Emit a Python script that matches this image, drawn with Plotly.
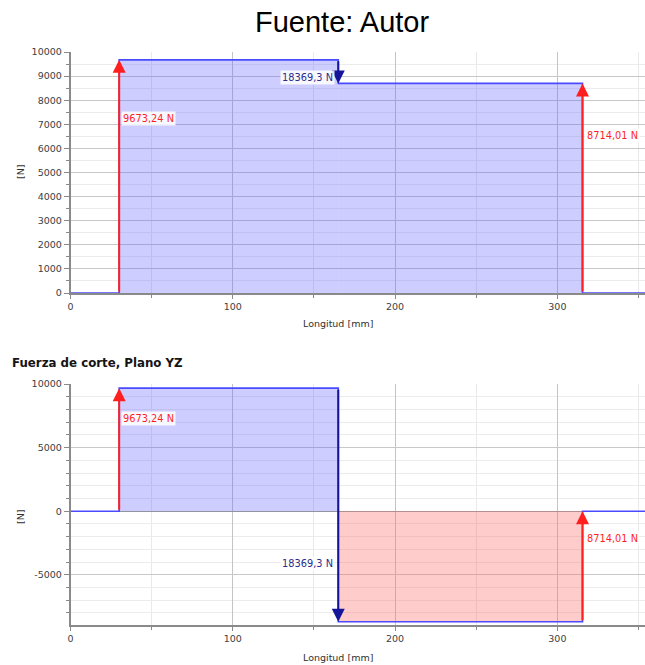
import plotly.graph_objects as go

# ---------------- data ----------------
support_x = [30, 165, 315.5]            # mm, load positions
force_labels = ["9673,24 N", "18369,3 N", "8714,01 N"]
force_dirs = ["up", "down", "up"]
shear_top = [9673.24, 8696.06]          # upper diagram values between supports
shear_yz = [9673.24, -8696.06]          # "Fuerza de corte, Plano YZ"
x_max = 354
x_ticks = [0, 100, 200, 300]
x_tick_text = ["0", "100", "200", "300"]
top_y_ticks = [0, 1000, 2000, 3000, 4000, 5000, 6000, 7000, 8000, 9000, 10000]
top_y_text = ["0", "1000", "2000", "3000", "4000", "5000", "6000", "7000", "8000", "9000", "10000"]
bot_y_ticks = [-5000, 0, 5000, 10000]
bot_y_text = ["-5000", "0", "5000", "10000"]
top_y_range = [0, 10000]
bot_y_range = [-8950, 10000]

W, H = 645, 665
def px(x):  # pixel -> paper x
    return x / W
def py(y):  # pixel -> paper y
    return 1 - y / H

RED = "#ff1f1f"
BLUE_ARROW = "#15159a"
BLUE_LINE = "#4a4aff"
BLUE_FILL = "rgba(90,90,255,0.30)"
RED_FILL = "rgba(255,110,110,0.35)"
FONT = "DejaVu Sans"

fig = go.Figure()

def add_diagram(values, xa, ya):
    for i, v in enumerate(values):
        x0, x1 = support_x[i], support_x[i + 1]
        fig.add_trace(go.Scatter(
            x=[x0, x0, x1, x1], y=[0, v, v, 0], fill="toself",
            fillcolor=BLUE_FILL if v >= 0 else RED_FILL,
            line=dict(width=0), mode="lines", hoverinfo="skip",
            showlegend=False, xaxis=xa, yaxis=ya))
    xs = [0, support_x[0]]
    ys = [0, 0]
    for i, v in enumerate(values):
        xs += [support_x[i], support_x[i + 1]]
        ys += [v, v]
    xs += [support_x[-1], x_max]
    ys += [0, 0]
    fig.add_trace(go.Scatter(x=xs, y=ys, mode="lines",
                             line=dict(color=BLUE_LINE, width=1.6),
                             showlegend=False, hoverinfo="skip",
                             xaxis=xa, yaxis=ya))
    levels = [0] + list(values) + [0]
    for i, xp in enumerate(support_x):
        lo, hi = sorted([levels[i], levels[i + 1]])
        up = force_dirs[i] == "up"
        tail, head = (lo, hi) if up else (hi, lo)
        col = RED if up else BLUE_ARROW
        fig.add_annotation(x=xp, y=head, ax=xp, ay=tail,
                           xref=xa, yref=ya, axref=xa, ayref=ya,
                           text="", showarrow=True, arrowhead=2,
                           arrowsize=1.3, arrowwidth=2, arrowcolor=col,
                           standoff=0)
        ly = tail + 0.75 * (head - tail)
        if up:
            fig.add_annotation(x=xp, y=ly, xref=xa, yref=ya, text=force_labels[i],
                               showarrow=False, xanchor="left", yanchor="middle", xshift=2,
                               font=dict(family=FONT, size=9.8, color=RED),
                               bgcolor="rgba(255,255,255,0.85)", borderpad=1)
        else:
            fig.add_annotation(x=xp, y=ly, xref=xa, yref=ya, text=force_labels[i],
                               showarrow=False, xanchor="right", yanchor="middle", xshift=-3,
                               font=dict(family=FONT, size=9.8, color="#2b2b8c"),
                               bgcolor="rgba(255,255,255,0.85)", borderpad=1)

add_diagram(shear_top, "x", "y")
add_diagram(shear_yz, "x2", "y2")

tickfont = dict(family=FONT, size=9.5, color="#404040")
xdom = [px(70.5), 1]
common_x = dict(range=[0, x_max], tickvals=x_ticks, ticktext=x_tick_text,
                showgrid=True, automargin=False,
                gridcolor="#c4c4c4", gridwidth=1, zeroline=False,
                showline=True, linecolor="#8a8a8a", linewidth=1.5,
                ticks="outside", ticklen=4, tickcolor="#8a8a8a",
                tickfont=tickfont,
                minor=dict(dtick=50, tick0=0, showgrid=True, gridcolor="#e9e9e9",
                           ticks="outside", ticklen=3, tickcolor="#8a8a8a"))
fig.update_layout(
    width=W, height=H, margin=dict(l=0, r=0, t=0, b=0, autoexpand=False),
    paper_bgcolor="white", plot_bgcolor="white",
    xaxis=dict(domain=xdom, anchor="y", **common_x),
    xaxis2=dict(domain=xdom, anchor="y2", **common_x),
    yaxis=dict(domain=[py(293), py(52)], anchor="x", range=top_y_range,
               tickvals=top_y_ticks, ticktext=top_y_text, automargin=False,
               showgrid=True, gridcolor="#c8c8c8",
               zeroline=False, showline=True, linecolor="#8a8a8a", linewidth=1.5,
               ticks="outside", ticklen=5, tickcolor="#8a8a8a", tickfont=tickfont,
               minor=dict(dtick=500, tick0=0, showgrid=True, gridcolor="#ececec",
                          ticks="outside", ticklen=3, tickcolor="#8a8a8a")),
    yaxis2=dict(domain=[py(625), py(384)], anchor="x2", range=bot_y_range,
                tickvals=bot_y_ticks, ticktext=bot_y_text, automargin=False,
                showgrid=True, gridcolor="#c8c8c8",
                zeroline=True, zerolinecolor="#9a9a9a", zerolinewidth=1,
                showline=True, linecolor="#8a8a8a", linewidth=1.5,
                ticks="outside", ticklen=5, tickcolor="#8a8a8a", tickfont=tickfont,
                minor=dict(dtick=1000, tick0=0, showgrid=True, gridcolor="#ececec",
                           ticks="outside", ticklen=3, tickcolor="#8a8a8a")),
)

fig.add_annotation(x=px(341.5), y=py(22), xref="paper", yref="paper",
                   xanchor="center", yanchor="middle",
                   text="Fuente: Autor", showarrow=False,
                   font=dict(family="Liberation Sans", size=29, color="#000"))
fig.add_annotation(x=px(10), y=py(363), xref="paper", yref="paper",
                   xanchor="left", yanchor="middle",
                   text="<b>Fuerza de corte, Plano YZ</b>", showarrow=False,
                   font=dict(family=FONT, size=11.8, color="#141414"))
for yc, xl in [(172, 324), (517, 657)]:
    fig.add_annotation(x=px(20), y=py(yc), xref="paper", yref="paper",
                       xanchor="center", yanchor="middle",
                       text="[N]", textangle=-90, showarrow=False,
                       font=dict(family=FONT, size=9.5, color="#303030"))
    fig.add_annotation(x=px(338), y=py(xl), xref="paper", yref="paper",
                       xanchor="center", yanchor="middle",
                       text="Longitud [mm]", showarrow=False,
                       font=dict(family=FONT, size=9.5, color="#303030"))

fig.write_html("out.html", config={"displayModeBar": False},
               post_script="document.body.style.margin='0';document.body.style.overflow='hidden';")
